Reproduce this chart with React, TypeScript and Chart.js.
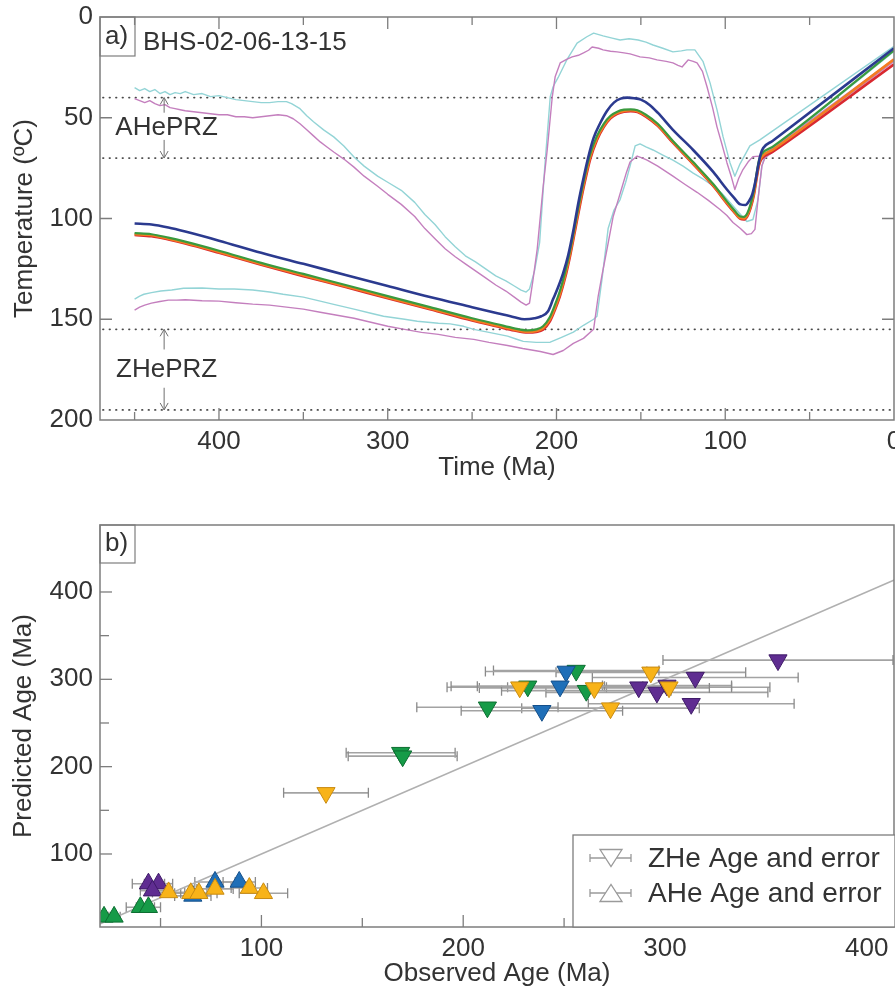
import React, { useEffect, useRef } from 'react';
import { Chart, registerables } from 'chart.js';

Chart.register(...registerables);

const FONT_FAMILY = '"Liberation Sans", Arial, Helvetica, sans-serif';
const TEXT = '#333333';
const FRAME = '#7d7d7d';

// ---------------- Panel a: thermal history ----------------
const SAMPLE_NAME = 'BHS-02-06-13-15';
const TIME_TICKS = [400, 300, 200, 100, 0];
const TIME_MINOR = [450, 350, 250, 150, 50];
const TEMP_TICKS = [0, 50, 100, 150, 200];
const AHE_PRZ = [40, 70];
const ZHE_PRZ = [155, 195];
const PRZ_LABEL_TIME = 431;
const PRZ_ARROW_TIME = 432.5;
const AHE_LABEL_TEMP = 55;
const ZHE_LABEL_TEMP = 175;
const AHE_ARROWS = [[47.5, 40], [61, 70]];
const ZHE_ARROWS = [[165, 155], [184, 195]];

const BLUE_T = [450,440,430,420,400,375,350,325,300,275,250,235,225,219,213,209,205,202,199,196,193,190,187,184,181,178,174,170,166,162,158,154,150,145,140,131,119,107,99,95,91,88,86,84,82,80.5,79,77.5,72,0];
const BLUE_Y = [102.5,103,104.5,106.5,111,117,122.5,128,133.5,139,144,147,149,150,149.5,148.5,146,140,134,127,118,106,92,80,69,60,52.5,46.5,42.5,40.5,40,40.3,41,43.5,47.5,56,66,77,85.6,89.5,93,93.3,91.5,88,81,74,68,65,61.5,15.5];

const MAIN_T = [450,440,430,420,400,375,350,325,300,275,250,235,225,217,212,208,204,201,198,195,192,189,186,183,180,176,172,168,164,160,156,152,147,140,131,119,107,99,95,91,89,87,85,83,81.5,80,78.5,72,0];
const GREEN_Y = [107.3,107.8,109.5,111.5,116,122,127.5,133,138.5,144,149.5,152.5,154.5,155.5,155,153.5,149,143,136,127,116,103,90,78,68,59,53,49,47,46,45.8,46.3,48.5,53,61.5,72,83,91.5,95.5,99,99.2,97.5,93,86,78,71,68,64.5,16.5];
const ORANGE_Y = [107.8,108.3,110,112,116.6,122.6,128.2,133.6,139.2,144.6,150.2,153.2,155.2,156.2,155.8,154.5,150.2,144.5,137.5,128.5,117.5,104.5,91.5,79.5,69.3,60.2,54,49.8,47.6,46.6,46.3,46.8,49,53.6,62,72.6,83.6,92.2,96.2,99.8,100,98.4,94,87.2,79.5,72.5,69.5,66,21];
const RED_Y = [108.2,108.8,110.4,112.4,117,123,128.6,134,139.6,145,150.6,153.6,155.6,156.6,156.3,155.2,151.2,145.5,138.6,129.8,118.8,106,93,81,70.5,61,54.6,50.3,48,47,46.7,47.2,49.4,54,62.4,73,84,92.6,96.6,100.2,100.5,99,94.8,88.2,80.5,73.5,70.5,67,23.5];

const CU_T = [450,447,444,441,438,435,432,429,426,423,420,415,410,405,400,395,390,385,380,375,370,365,360,357,352,348,344,338,332,326,320,314,306,300,292,284,278,272,266,260,254,248,242,236,230,225,221,218,216,213,210,207,203.7,202,199,193.7,187.8,182,178,172.4,167,162.3,157,151.6,147,142.8,137,131,126,122.7,118,113.2,109,104.9,101.3,97.2,94.3,91.3,85.4,79.5,0];
const CU_Y = [35,36.5,35.5,37,36,38,37,38.5,37.5,38,37,38.5,38,39.5,39,40,41,41.5,42,42.5,42.5,42,42,43,45.5,49,52,56,59.5,64,69.5,74,79,82,86,92,98,103,109,114,118.5,121.5,125,128.5,131,133.5,135.5,136.5,135,126,112,75,39.6,34.6,30,21,13,9.8,8,9.4,10.5,11.4,10.8,11.4,12.5,13.9,15.5,17.3,16.8,16.3,16.3,22,32.7,46,59.4,72.3,79,73,64,61,14.6];

const MU_T = [450,447,444,441,438,435,432,429,426,423,420,415,410,405,400,395,390,385,380,375,370,365,360,356,352,348,344,340,336,332,326,320,314,306,300,292,284,278,272,266,260,254,248,242,236,230,225,221,218,216,214,211.4,208,205.5,202.5,200.8,197.8,194,190.7,187,184,181,178.9,175,172.4,168,164.1,160,156.4,150.5,145,140.4,135,131,128,125.6,122,119,116.7,113.5,110.8,107.5,104.9,102,99,96.5,94.3,92,89.5,86.5,83.6,78.3,0];
const MU_Y = [40.5,41.5,42.5,41.5,43,44,43.5,45,45.5,46,46.5,47,47.5,48,48.5,48.5,49.5,49.5,50,49.5,49,48.5,49,50.5,53,56,59,62,64.5,67,70.5,74.5,79,84,88,93,99,105,110,115,119,122.5,126,129.5,133,136,139,141.5,143,142,131,115,85,66,39.6,29.7,22.8,21,19.8,19,17.8,16.5,14.9,15.5,16.3,17,17.3,17.8,18.3,19.8,20.3,21.3,22,22.8,24,24.8,21.3,22,22.8,27,34.6,45,54.5,63,72.3,79,85.6,80,75.7,72,69.3,69,21];

const CL_T = [450,447,444.5,440,434.5,428,421,410,400,391,380,370,362,350,340,332,320,310,302.5,290,282.5,270,263,255,249,240,229,224,219.7,212,203.7,197,190,184,178,176,173,169.4,166,162.3,159,156.4,153.4,150.5,147,142.8,137,131,125,119,113,107,102,97.2,92,87.2,83.6,80.6,78.3,76.5,0];
const CL_Y = [140,138.5,137.6,136.8,136,135.5,134.6,134.5,135,135,135.5,136.5,137.6,139,141,142.6,145,147,148.5,150,151,152,152.3,153.5,155,156.5,158.4,159.8,161,161.5,161.4,159,156.4,153,150,148.5,130,105,96,90.6,82,74,64,63,64.5,66,68.5,71,74,77.5,80.5,84,87.5,92,97,101.5,100.5,90.6,74,69,17];

const ML_T = [450,447,444,440,435,430,425,420,410,400,390,380,370,360,350,340,330,320,310,300,290,280,270,260,249,240,229,220,209.6,202,196,190,184,178,175.3,173,170,166.4,163.5,161,158.5,156.4,152.2,149,146.3,140,131,124,116.7,110,103.1,99,95.4,91,87.2,84.5,82.4,80.6,78.3,76.5,0];
const ML_Y = [145.5,144,143,142,141.2,140.5,140.5,140.3,140.8,141,141.8,142.5,143,144,145,146.5,148,149.5,151.5,153.5,155,156.5,157.5,159,160,161.5,163,164.5,166,167.5,165.5,162,159.5,155,138.6,128,115,99,91,84,77,72,69,70,71,74,79,83,87,91,95.5,98.5,102,105,108,107.5,105.4,90.6,74,70,22];

// ---------------- Panel b: observed vs predicted ----------------
const AGE_X_TICKS = [100, 200, 300, 400];
const AGE_X_MINOR = [50, 150, 250, 350];
const AGE_Y_TICKS = [100, 200, 300, 400];
const AGE_Y_MINOR = [150, 250, 350];
const ONE_TO_ONE = [0, 500];

const ZHE_OBS = [356,315,287,296,313,301,293,302,273,265,228,232,256,261,212,251,248,239,169,170,132];
const ZHE_PRED = [322,302,291,285,272,293,308,291,267,290,291,292,310,287,268,309,292,264,216,212,170];
const ZHE_ERR = [57,51,65,55,51,32,47,31,44,57,36,38,41,42,35,40,41,40,27,27,21];
const ZHE_GROUP = ['P','P','P','P','P','P','Y','Y','Y','Y','Y','G','G','G','G','B','B','B','G','G','Y'];

const AHE_OBS = [22,27,40,44,44,49,46,54,66,65,69,77,77,89,94,101];
const AHE_PRED = [28,28,39,39,66,66,58,56,52,55,55,68,60,68,61,55];
const AHE_ERR = [3,3,7,6,8,7,6,8,9,8,9,10,9,8,9,12];
const AHE_GROUP = ['G','G','G','G','P','P','P','Y','B','Y','Y','B','Y','B','Y','Y'];

const GROUP_ORDER = ['P', 'G', 'B', 'Y'];
const GROUP_FILL: Record<string, string> = { P: '#5f2d91', G: '#169b48', B: '#1f6fb8', Y: '#f8b318' };
const GROUP_EDGE: Record<string, string> = { P: '#3f1b68', G: '#0d6e31', B: '#144f8a', Y: '#c88b12' };

const LEGEND_ITEMS = ['ZHe Age and error', 'AHe Age and error'];

const xy = (xs: number[], ys: number[]) => xs.map((x, i) => ({ x, y: ys[i] }));
const font = (size: number) => ({ family: FONT_FAMILY, size });
const noPad = (s: any) => { s.paddingLeft = 0; s.paddingRight = 0; s.paddingTop = 0; s.paddingBottom = 0; };

function tickX(ctx: CanvasRenderingContext2D, px: number, ca: any, len: number, top: boolean) {
  if (px <= ca.left + 1 || px >= ca.right - 1) return;
  ctx.beginPath();
  ctx.moveTo(px, ca.bottom);
  ctx.lineTo(px, ca.bottom - len);
  if (top) {
    ctx.moveTo(px, ca.top);
    ctx.lineTo(px, ca.top + len);
  }
  ctx.stroke();
}

function tickY(ctx: CanvasRenderingContext2D, py: number, ca: any, len: number, right: boolean) {
  if (py <= ca.top + 1 || py >= ca.bottom - 1) return;
  ctx.beginPath();
  ctx.moveTo(ca.left, py);
  ctx.lineTo(ca.left + len, py);
  if (right) {
    ctx.moveTo(ca.right, py);
    ctx.lineTo(ca.right - len, py);
  }
  ctx.stroke();
}

function arrow(ctx: CanvasRenderingContext2D, x: number, y1: number, y2: number) {
  const dir = y2 > y1 ? 1 : -1;
  ctx.beginPath();
  ctx.moveTo(x, y1);
  ctx.lineTo(x, y2);
  ctx.moveTo(x - 4, y2 - dir * 7);
  ctx.lineTo(x, y2);
  ctx.lineTo(x + 4, y2 - dir * 7);
  ctx.stroke();
}

function tri(ctx: CanvasRenderingContext2D, cx: number, cy: number, w: number, h: number, down: boolean) {
  ctx.beginPath();
  if (down) {
    ctx.moveTo(cx - w / 2, cy - h / 2);
    ctx.lineTo(cx + w / 2, cy - h / 2);
    ctx.lineTo(cx, cy + h / 2);
  } else {
    ctx.moveTo(cx - w / 2, cy + h / 2);
    ctx.lineTo(cx + w / 2, cy + h / 2);
    ctx.lineTo(cx, cy - h / 2);
  }
  ctx.closePath();
  ctx.fill();
  ctx.stroke();
}

const panelAPlugin = {
  id: 'panelA',
  beforeDatasetsDraw(chart: any) {
    const { ctx, chartArea: ca, scales } = chart;
    const y = scales.y;
    ctx.save();
    ctx.strokeStyle = '#4a4a4a';
    ctx.lineWidth = 1.8;
    ctx.lineCap = 'round';
    ctx.setLineDash([0.5, 6]);
    for (const v of [...AHE_PRZ, ...ZHE_PRZ]) {
      const py = y.getPixelForValue(v);
      ctx.beginPath();
      ctx.moveTo(ca.left + 3, py);
      ctx.lineTo(ca.right, py);
      ctx.stroke();
    }
    ctx.restore();
  },
  afterDraw(chart: any) {
    const { ctx, chartArea: ca, scales } = chart;
    const x = scales.x, y = scales.y;
    ctx.save();
    ctx.strokeStyle = FRAME;
    ctx.lineWidth = 1.5;
    ctx.strokeRect(ca.left, ca.top, ca.right - ca.left, ca.bottom - ca.top);
    ctx.lineWidth = 1.3;
    TIME_TICKS.forEach(v => tickX(ctx, x.getPixelForValue(v), ca, 12, true));
    TIME_MINOR.forEach(v => tickX(ctx, x.getPixelForValue(v), ca, 8, true));
    TEMP_TICKS.forEach(v => tickY(ctx, y.getPixelForValue(v), ca, 12, true));
    // panel label
    ctx.lineWidth = 1.2;
    ctx.strokeRect(ca.left, ca.top, 35, 39);
    ctx.fillStyle = TEXT;
    ctx.textBaseline = 'middle';
    ctx.textAlign = 'left';
    ctx.font = `26px ${FONT_FAMILY}`;
    ctx.fillText('a)', ca.left + 5, ca.top + 20);
    ctx.fillText(SAMPLE_NAME, ca.left + 43, ca.top + 26);
    // PRZ labels
    ctx.font = `26px ${FONT_FAMILY}`;
    ctx.textAlign = 'center';
    const lx = x.getPixelForValue(PRZ_LABEL_TIME);
    ctx.fillText('AHePRZ', lx, y.getPixelForValue(AHE_LABEL_TEMP));
    ctx.fillText('ZHePRZ', lx, y.getPixelForValue(ZHE_LABEL_TEMP));
    ctx.strokeStyle = '#6f6f6f';
    ctx.lineWidth = 1;
    const ax = x.getPixelForValue(PRZ_ARROW_TIME);
    [...AHE_ARROWS, ...ZHE_ARROWS].forEach(([a, b]) => arrow(ctx, ax, y.getPixelForValue(a), y.getPixelForValue(b)));
    ctx.restore();
  },
};

const panelBPlugin = {
  id: 'panelB',
  beforeDatasetsDraw(chart: any) {
    const { ctx, chartArea: ca, scales } = chart;
    const x = scales.x, y = scales.y;
    ctx.save();
    ctx.beginPath();
    ctx.rect(ca.left, ca.top, ca.right - ca.left, ca.bottom - ca.top);
    ctx.clip();
    const bars = (obs: number[], pred: number[], err: number[]) => {
      obs.forEach((o, i) => {
        const py = y.getPixelForValue(pred[i]);
        const x1 = x.getPixelForValue(o - err[i]);
        const x2 = x.getPixelForValue(o + err[i]);
        ctx.strokeStyle = '#a3a3a3';
        ctx.lineWidth = 1.6;
        ctx.beginPath();
        ctx.moveTo(x1, py);
        ctx.lineTo(x2, py);
        ctx.stroke();
        ctx.strokeStyle = '#8a8a8a';
        ctx.lineWidth = 1.3;
        ctx.beginPath();
        ctx.moveTo(x1, py - 5);
        ctx.lineTo(x1, py + 5);
        ctx.moveTo(x2, py - 5);
        ctx.lineTo(x2, py + 5);
        ctx.stroke();
      });
    };
    bars(ZHE_OBS, ZHE_PRED, ZHE_ERR);
    bars(AHE_OBS, AHE_PRED, AHE_ERR);
    ctx.restore();
  },
  afterDraw(chart: any) {
    const { ctx, chartArea: ca, scales } = chart;
    const x = scales.x, y = scales.y;
    ctx.save();
    ctx.strokeStyle = FRAME;
    ctx.lineWidth = 1.5;
    ctx.strokeRect(ca.left, ca.top, ca.right - ca.left, ca.bottom - ca.top);
    ctx.lineWidth = 1.3;
    AGE_X_TICKS.forEach(v => tickX(ctx, x.getPixelForValue(v), ca, 12, false));
    AGE_X_MINOR.forEach(v => tickX(ctx, x.getPixelForValue(v), ca, 9, false));
    AGE_Y_TICKS.forEach(v => tickY(ctx, y.getPixelForValue(v), ca, 12, false));
    AGE_Y_MINOR.forEach(v => tickY(ctx, y.getPixelForValue(v), ca, 9, false));
    // panel label
    ctx.lineWidth = 1.2;
    ctx.strokeRect(ca.left, ca.top, 35, 38);
    ctx.fillStyle = TEXT;
    ctx.textBaseline = 'middle';
    ctx.textAlign = 'left';
    ctx.font = `26px ${FONT_FAMILY}`;
    ctx.fillText('b)', ca.left + 5, ca.top + 19);
    // legend
    const w = 321, h = 92;
    const lx = ca.right - w, ly = ca.bottom - h;
    ctx.fillStyle = '#ffffff';
    ctx.fillRect(lx, ly, w + 1, h);
    ctx.strokeStyle = FRAME;
    ctx.lineWidth = 1.3;
    ctx.strokeRect(lx, ly, w + 1, h);
    LEGEND_ITEMS.forEach((label, i) => {
      const cy = ly + 23 + i * 35;
      ctx.strokeStyle = '#9a9a9a';
      ctx.lineWidth = 1.3;
      ctx.beginPath();
      ctx.moveTo(lx + 17, cy);
      ctx.lineTo(lx + 58, cy);
      ctx.moveTo(lx + 17, cy - 4);
      ctx.lineTo(lx + 17, cy + 4);
      ctx.moveTo(lx + 58, cy - 4);
      ctx.lineTo(lx + 58, cy + 4);
      ctx.stroke();
      ctx.fillStyle = '#ffffff';
      tri(ctx, lx + 38, cy, 22, 17, i === 0);
      ctx.fillStyle = TEXT;
      ctx.font = `28px ${FONT_FAMILY}`;
      ctx.textAlign = 'left';
      ctx.fillText(label, lx + 75, cy + 1);
    });
    ctx.restore();
  },
};

function lineDs(ts: number[], ys: number[], color: string, width: number, order: number, smooth: boolean) {
  return {
    data: xy(ts, ys),
    borderColor: color,
    borderWidth: width,
    pointRadius: 0,
    fill: false,
    order,
    tension: 0,
    cubicInterpolationMode: smooth ? 'monotone' : 'default',
    borderJoinStyle: 'round',
  };
}

function groupDatasets(obs: number[], pred: number[], group: string[], down: boolean) {
  return GROUP_ORDER.map((g, gi) => ({
    type: 'scatter',
    data: obs.map((o, i) => ({ x: o, y: pred[i], g: group[i] })).filter(p => p.g === g),
    pointStyle: 'triangle',
    pointRadius: 10.5,
    pointRotation: down ? 180 : 0,
    backgroundColor: GROUP_FILL[g],
    borderColor: GROUP_EDGE[g],
    borderWidth: 1,
    order: 10 - gi,
  }));
}

export default function App() {
  const refA = useRef<HTMLCanvasElement>(null);
  const refB = useRef<HTMLCanvasElement>(null);

  useEffect(() => {
    Chart.defaults.font.family = FONT_FAMILY;
    Chart.defaults.color = TEXT;

    const chartA = new Chart(refA.current as HTMLCanvasElement, {
      type: 'line',
      data: {
        datasets: [
          lineDs(CU_T, CU_Y, '#93d4d6', 1.4, 9, false),
          lineDs(CL_T, CL_Y, '#93d4d6', 1.4, 9, false),
          lineDs(MU_T, MU_Y, '#c47fbe', 1.4, 8, false),
          lineDs(ML_T, ML_Y, '#c47fbe', 1.4, 8, false),
          lineDs(MAIN_T, RED_Y, '#d9282f', 2.6, 4, true),
          lineDs(MAIN_T, ORANGE_Y, '#f47c20', 2.6, 3, true),
          lineDs(MAIN_T, GREEN_Y, '#3a9a3e', 2.2, 2, true),
          lineDs(BLUE_T, BLUE_Y, '#2b3a8f', 2.6, 1, true),
        ] as any,
      },
      options: {
        responsive: false,
        animation: false,
        devicePixelRatio: 1,
        layout: { autoPadding: false, padding: { top: 17, right: 1, left: 0, bottom: 0 } },
        plugins: { legend: { display: false }, tooltip: { enabled: false } },
        scales: {
          x: {
            type: 'linear',
            reverse: true,
            min: 0,
            max: 470.5,
            grid: { display: false, drawTicks: false },
            border: { display: false },
            ticks: { font: font(26), color: TEXT, padding: 6, maxRotation: 0, autoSkip: false },
            afterBuildTicks: (s: any) => { s.ticks = TIME_TICKS.map(v => ({ value: v })); },
            afterFit: (s: any) => { s.height = 70; noPad(s); },
            title: { display: true, text: 'Time (Ma)', font: font(26), color: TEXT, padding: { top: 0, bottom: 7 } },
          },
          y: {
            type: 'linear',
            reverse: true,
            min: 0,
            max: 200,
            grid: { display: false, drawTicks: false },
            border: { display: false },
            ticks: { font: font(26), color: TEXT, padding: 7, autoSkip: false },
            afterBuildTicks: (s: any) => { s.ticks = TEMP_TICKS.map(v => ({ value: v })); },
            afterFit: (s: any) => { s.width = 100; noPad(s); },
            title: { display: true, text: 'Temperature (ºC)', font: font(26), color: TEXT, padding: { top: 9, bottom: 0 } },
          },
        },
      } as any,
      plugins: [panelAPlugin],
    });

    const chartB = new Chart(refB.current as HTMLCanvasElement, {
      type: 'scatter',
      data: {
        datasets: [
          {
            type: 'line',
            data: xy(ONE_TO_ONE, ONE_TO_ONE),
            borderColor: '#b0b0b0',
            borderWidth: 1.6,
            pointRadius: 0,
            fill: false,
            order: 20,
          },
          ...groupDatasets(ZHE_OBS, ZHE_PRED, ZHE_GROUP, true),
          ...groupDatasets(AHE_OBS, AHE_PRED, AHE_GROUP, false),
        ] as any,
      },
      options: {
        responsive: false,
        animation: false,
        devicePixelRatio: 1,
        layout: { autoPadding: false, padding: { top: 30, right: 1, left: 0, bottom: 0 } },
        plugins: { legend: { display: false }, tooltip: { enabled: false } },
        scales: {
          x: {
            type: 'linear',
            min: 20,
            max: 413.5,
            grid: { display: false, drawTicks: false },
            border: { display: false },
            ticks: { font: font(26), color: TEXT, padding: 6, maxRotation: 0, autoSkip: false },
            afterBuildTicks: (s: any) => { s.ticks = AGE_X_TICKS.map(v => ({ value: v })); },
            afterFit: (s: any) => { s.height = 62; noPad(s); },
            title: { display: true, text: 'Observed Age (Ma)', font: font(26), color: TEXT, padding: { top: 0, bottom: 0 } },
          },
          y: {
            type: 'linear',
            min: 16.4,
            max: 476.7,
            grid: { display: false, drawTicks: false },
            border: { display: false },
            ticks: { font: font(26), color: TEXT, padding: 7, autoSkip: false },
            afterBuildTicks: (s: any) => { s.ticks = AGE_Y_TICKS.map(v => ({ value: v })); },
            afterFit: (s: any) => { s.width = 100; noPad(s); },
            title: { display: true, text: 'Predicted Age (Ma)', font: font(26), color: TEXT, padding: { top: 8, bottom: 0 } },
          },
        },
      } as any,
      plugins: [panelBPlugin],
    });

    return () => {
      chartA.destroy();
      chartB.destroy();
    };
  }, []);

  return (
    <div style={{ position: 'absolute', left: 0, top: 0, width: 895, height: 989, background: '#ffffff', overflow: 'hidden' }}>
      <canvas ref={refA} width={895} height={490} style={{ position: 'absolute', left: 0, top: 0, display: 'block' }} />
      <canvas ref={refB} width={895} height={494} style={{ position: 'absolute', left: 0, top: 495, display: 'block' }} />
    </div>
  );
}
